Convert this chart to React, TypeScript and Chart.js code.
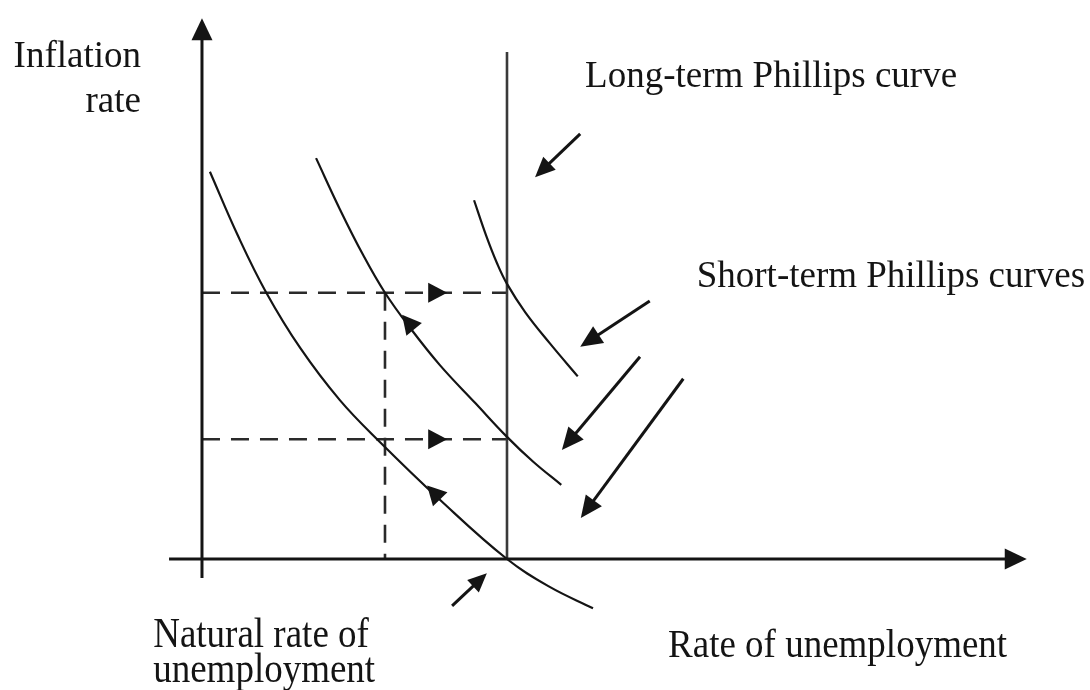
import React, { useEffect, useRef } from "react";
import { Chart, registerables } from "chart.js";

Chart.register(...registerables);

// ---- coordinate frame (unemployment on x, inflation on y; arbitrary units) ----
const X_MIN = -3.311;
const X_MAX = 14.557;
const Y_MIN = -2.209;
const Y_MAX = 9.427;

// ---- key levels ----
const NATURAL_RATE = 5.0;
const LOW_UNEMPLOYMENT = 3.0;
const HIGH_INFLATION = 4.49;
const LOW_INFLATION = 2.02;
const LONG_RUN_TOP = 8.55;

// ---- short-run Phillips curves ----
const SR1_U = [0.13, 0.59, 1.05, 1.61, 2.26, 2.92, 3.9, 5.0, 5.7, 6.41];
const SR1_PI = [6.53, 5.45, 4.5, 3.56, 2.68, 1.97, 1.0, 0, -0.47, -0.83];
const SR2_U = [1.87, 2.26, 2.64, 3.0, 3.41, 3.9, 4.48, 5.0, 5.43, 5.89];
const SR2_PI = [6.76, 5.9, 5.13, 4.49, 3.9, 3.27, 2.63, 2.06, 1.64, 1.25];
const SR3_U = [4.46, 4.66, 4.84, 5.0, 5.3, 5.7, 6.16];
const SR3_PI = [6.05, 5.45, 4.98, 4.64, 4.16, 3.64, 3.08];

// ---- axes (start, arrow tip) ----
const X_AXIS_U = [-0.54, 13.52];
const X_AXIS_PI = [0, 0];
const Y_AXIS_U = [0, 0];
const Y_AXIS_PI = [-0.32, 9.12];

// ---- pointer arrows (tail -> tip) ----
const POINTER_FROM_U = [6.2, 7.34, 7.18, 7.89, 4.1];
const POINTER_FROM_PI = [7.17, 4.35, 3.41, 3.04, -0.79];
const POINTER_TO_U = [5.46, 6.2, 5.9, 6.21, 4.67];
const POINTER_TO_PI = [6.44, 3.58, 1.84, 0.69, -0.24];

// ---- movement arrowheads (direction point -> tip) ----
const MOVE_FROM_U = [3.6, 3.6, 3.95, 3.6];
const MOVE_FROM_PI = [HIGH_INFLATION, LOW_INFLATION, 0.96, 3.72];
const MOVE_TO_U = [4.02, 4.02, 3.69, 3.28];
const MOVE_TO_PI = [HIGH_INFLATION, LOW_INFLATION, 1.24, 4.12];

// ---- text labels ----
const LABEL_TEXT = [
  "Inflation",
  "rate",
  "Long-term Phillips curve",
  "Short-term Phillips curves",
  "Natural rate of",
  "unemployment",
  "Rate of unemployment",
];
const LABEL_U = [-1.0, -1.0, 6.28, 8.11, -0.8, -0.8, 7.64];
const LABEL_PI = [8.3, 7.54, 7.96, 4.59, -1.48, -2.07, -1.65];
const LABEL_ALIGN = ["right", "right", "left", "left", "left", "left", "left"];
const LABEL_STRETCH = [1, 1, 1, 1, 1.12, 1.12, 1.1];

const INK = "#141414";

const toPoints = (us: number[], pis: number[]) =>
  us.map((u, i) => ({ x: u, y: pis[i] }));

function drawArrow(
  ctx: CanvasRenderingContext2D,
  x0: number,
  y0: number,
  x1: number,
  y1: number,
  shaft: boolean,
  lineWidth: number,
  headLen: number,
  headWidth: number
) {
  const dx = x1 - x0;
  const dy = y1 - y0;
  const len = Math.hypot(dx, dy) || 1;
  const ux = dx / len;
  const uy = dy / len;
  const nx = -uy;
  const ny = ux;
  const bx = x1 - ux * headLen;
  const by = y1 - uy * headLen;
  ctx.save();
  ctx.strokeStyle = INK;
  ctx.fillStyle = INK;
  if (shaft) {
    ctx.lineWidth = lineWidth;
    ctx.lineCap = "butt";
    ctx.beginPath();
    ctx.moveTo(x0, y0);
    ctx.lineTo(bx + ux * 2, by + uy * 2);
    ctx.stroke();
  }
  ctx.beginPath();
  ctx.moveTo(x1, y1);
  ctx.lineTo(bx + (nx * headWidth) / 2, by + (ny * headWidth) / 2);
  ctx.lineTo(bx - (nx * headWidth) / 2, by - (ny * headWidth) / 2);
  ctx.closePath();
  ctx.fill();
  ctx.restore();
}

const diagramPlugin = {
  id: "phillipsDiagram",
  afterDatasetsDraw(chart: any) {
    const ctx: CanvasRenderingContext2D = chart.ctx;
    const xs = chart.scales.x;
    const ys = chart.scales.y;
    const px = (u: number) => xs.getPixelForValue(u);
    const py = (v: number) => ys.getPixelForValue(v);

    // axes
    drawArrow(ctx, px(X_AXIS_U[0]), py(X_AXIS_PI[0]), px(X_AXIS_U[1]), py(X_AXIS_PI[1]), true, 3, 22, 21);
    drawArrow(ctx, px(Y_AXIS_U[0]), py(Y_AXIS_PI[0]), px(Y_AXIS_U[1]), py(Y_AXIS_PI[1]), true, 3, 22, 21);

    // pointer arrows
    const headSizes = [
      [20, 18],
      [22, 20],
      [22, 20],
      [22, 20],
      [19, 17],
    ];
    for (let i = 0; i < POINTER_FROM_U.length; i++) {
      drawArrow(
        ctx,
        px(POINTER_FROM_U[i]),
        py(POINTER_FROM_PI[i]),
        px(POINTER_TO_U[i]),
        py(POINTER_TO_PI[i]),
        true,
        3,
        headSizes[i][0],
        headSizes[i][1]
      );
    }

    // movement arrowheads
    for (let i = 0; i < MOVE_FROM_U.length; i++) {
      drawArrow(
        ctx,
        px(MOVE_FROM_U[i]),
        py(MOVE_FROM_PI[i]),
        px(MOVE_TO_U[i]),
        py(MOVE_TO_PI[i]),
        false,
        0,
        19,
        20
      );
    }

    // labels
    ctx.save();
    ctx.fillStyle = INK;
    ctx.font = '37px "Liberation Serif", "Times New Roman", serif';
    ctx.textBaseline = "alphabetic";
    for (let i = 0; i < LABEL_TEXT.length; i++) {
      ctx.save();
      ctx.translate(px(LABEL_U[i]), py(LABEL_PI[i]));
      ctx.scale(1, LABEL_STRETCH[i]);
      ctx.textAlign = LABEL_ALIGN[i] as CanvasTextAlign;
      ctx.fillText(LABEL_TEXT[i], 0, 0);
      ctx.restore();
    }
    ctx.restore();
  },
};

export default function App() {
  const canvasRef = useRef<HTMLCanvasElement | null>(null);

  useEffect(() => {
    const canvas = canvasRef.current;
    if (!canvas) return;

    const curveStyle = {
      borderColor: INK,
      borderWidth: 2.2,
      pointRadius: 0,
      fill: false,
      tension: 0.4,
    };
    const dashStyle = {
      borderColor: "#2a2a2a",
      borderWidth: 2.6,
      borderDash: [18, 11],
      pointRadius: 0,
      fill: false,
      tension: 0,
    };

    const chart = new Chart(canvas, {
      type: "line",
      data: {
        datasets: [
          { label: "SR1", data: toPoints(SR1_U, SR1_PI), ...curveStyle },
          { label: "SR2", data: toPoints(SR2_U, SR2_PI), ...curveStyle },
          { label: "SR3", data: toPoints(SR3_U, SR3_PI), ...curveStyle },
          {
            label: "Long-run",
            data: [
              { x: NATURAL_RATE, y: 0 },
              { x: NATURAL_RATE, y: LONG_RUN_TOP },
            ],
            borderColor: "#3a3a3a",
            borderWidth: 2.6,
            pointRadius: 0,
            fill: false,
          },
          {
            label: "high",
            data: [
              { x: 0, y: HIGH_INFLATION },
              { x: NATURAL_RATE, y: HIGH_INFLATION },
            ],
            ...dashStyle,
          },
          {
            label: "low",
            data: [
              { x: 0, y: LOW_INFLATION },
              { x: NATURAL_RATE, y: LOW_INFLATION },
            ],
            ...dashStyle,
          },
          {
            label: "vertical",
            data: [
              { x: LOW_UNEMPLOYMENT, y: HIGH_INFLATION },
              { x: LOW_UNEMPLOYMENT, y: 0 },
            ],
            ...dashStyle,
          },
        ],
      },
      options: {
        animation: false,
        responsive: true,
        maintainAspectRatio: false,
        parsing: false,
        events: [],
        layout: { padding: 0 },
        plugins: {
          legend: { display: false },
          tooltip: { enabled: false },
          title: { display: false },
        },
        scales: {
          x: { type: "linear", min: X_MIN, max: X_MAX, display: false },
          y: { type: "linear", min: Y_MIN, max: Y_MAX, display: false },
        },
      },
      plugins: [diagramPlugin],
    } as any);

    return () => chart.destroy();
  }, []);

  return (
    <div
      style={{
        position: "fixed",
        left: 0,
        top: 0,
        width: 1090,
        height: 690,
        background: "#ffffff",
      }}
    >
      <canvas ref={canvasRef} />
    </div>
  );
}
